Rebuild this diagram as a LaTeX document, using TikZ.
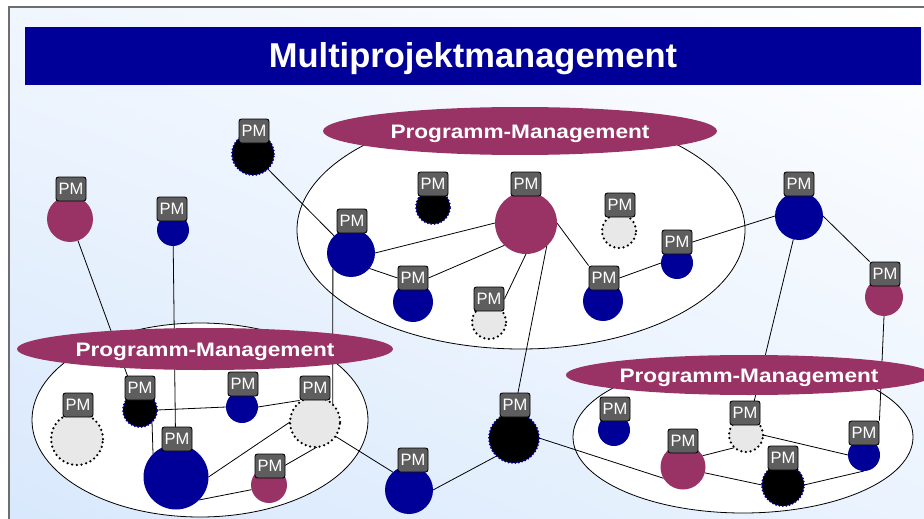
\documentclass[tikz,border=0pt]{standalone}
\usepackage{fontspec}
\usepackage{graphicx}
\setmainfont{Liberation Sans}
\usetikzlibrary{shapes.geometric,shadings}

\definecolor{navy}{HTML}{000099}
\definecolor{plum}{HTML}{993366}
\definecolor{pmgray}{HTML}{5E5E5E}
\definecolor{ghost}{HTML}{E8E8E8}
\definecolor{framegray}{HTML}{6E6E6E}
\definecolor{bgul}{RGB}{240,246,254}
\definecolor{bgll}{RGB}{216,232,252}
\definecolor{bglr}{RGB}{234,243,254}

\pgfdeclarelayer{back}
\pgfdeclarelayer{links}
\pgfsetlayers{back,links,main}

% a project circle: #1 name, #2 style, #3 x, #4 y, #5 diameter
\newcommand\projnode[5]{%
  \node[#2, minimum size=#5pt] (#1) at (#3,#4) {};
}
% its "PM" tag: #1 project name, #2 x, #3 y
\newcommand\pmtag[3]{%
  \node[pmbox] (#1pm) at (#2,#3) {PM};
}
% text lowered a little while keeping its box size
\newcommand\lowered[1]{\raisebox{-3pt}[\height][\depth]{#1}}
% stretched label text of a programme
\newcommand\pgmtext{\lowered{\scalebox{1.16}[1]{Programm-Management}}}

\begin{document}
\begin{tikzpicture}[x=1pt,y=-1pt,
  proj/.style={circle, inner sep=0pt, outer sep=0pt},
  bluep/.style={proj, fill=navy},
  plump/.style={proj, fill=plum},
  blackp/.style={proj, fill=black, draw=navy, line width=2.3pt,
                 dash pattern=on 0pt off 3.4pt, line cap=round},
  openp/.style={proj, fill=ghost, draw=black, line width=2.5pt,
                dash pattern=on 0pt off 4.7pt, line cap=round},
  pmbox/.style={rectangle, rounded corners=2.5pt, fill=pmgray, draw=black,
                line width=0.9pt, minimum width=30pt, minimum height=24pt,
                inner sep=0pt, text=white,
                font=\fontsize{16.5}{16.5}\selectfont},
  pgm/.style={ellipse, fill=plum, inner sep=0pt, text=white,
              font=\fontsize{19.5}{19.5}\selectfont\bfseries},
  link/.style={draw=black, line width=0.8pt},
  cluster/.style={draw=black, line width=0.8pt, fill=white},
  titlebar/.style={rectangle, fill=navy, inner sep=0pt, text=white,
                   minimum width=896pt, minimum height=58pt,
                   font=\fontsize{34.5}{34.5}\selectfont\bfseries},
]
\useasboundingbox (0,0) rectangle (924,519);

\begin{pgfonlayer}{back}
  % page background and frame
  \fill[white] (0,0) rectangle (924,519);
  \shade[upper left=bgul, upper right=white,
         lower left=bgll, lower right=bglr]
        (9,7) rectangle (932,528);
  \draw[framegray, line width=2.5pt] (932,7) -- (9,7) -- (9,528);
  % programme clusters
  \draw[cluster] (521,230) ellipse [x radius=224pt, y radius=119pt];
  \draw[cluster] (200,420) ellipse [x radius=168pt, y radius=97pt];
  \draw[cluster] (743,437) ellipse [x radius=170pt, y radius=76pt];
\end{pgfonlayer}

% title
\node[titlebar] (title) at (473,56) {\lowered{Multiprojektmanagement}};

% programme labels
\node[pgm, minimum width=394pt, minimum height=48pt] (pgtop) at (520,131) {\pgmtext};
\node[pgm, minimum width=376pt, minimum height=42pt] (pgleft) at (205,349) {\pgmtext};
\node[pgm, minimum width=366pt, minimum height=40pt] (pgright) at (749,375) {\pgmtext};

% projects
\projnode{A}{plump}{70}{219}{46}
\projnode{B}{bluep}{173}{230}{32}
\projnode{C}{blackp}{253}{154}{42}
\projnode{D}{blackp}{433}{207}{34}
\projnode{E}{plump}{526}{223}{62}
\projnode{F}{openp}{619}{231}{34}
\projnode{G}{bluep}{351}{253}{48}
\projnode{H}{bluep}{413}{302}{40}
\projnode{I}{openp}{489}{322}{34}
\projnode{J}{bluep}{603}{301}{40}
\projnode{K}{bluep}{677}{263}{32}
\projnode{L}{bluep}{799}{216}{48}
\projnode{M}{plump}{884}{297}{38}
\projnode{N}{openp}{77}{439}{52}
\projnode{O}{blackp}{140}{410}{34}
\projnode{P}{bluep}{242}{407}{32}
\projnode{Q}{openp}{315}{422}{50}
\projnode{R}{bluep}{176}{477}{65}
\projnode{S}{plump}{269}{485}{36}
\projnode{T}{bluep}{409}{490}{48}
\projnode{U}{blackp}{514}{438}{50}
\projnode{V}{bluep}{614}{430}{32}
\projnode{W}{plump}{683}{467}{45}
\projnode{X}{openp}{746}{435}{34}
\projnode{Y}{blackp}{783}{485}{42}
\projnode{Z}{bluep}{864}{455}{32}

% PM tags
\pmtag{A}{71}{189}
\pmtag{B}{172}{209}
\pmtag{C}{254}{131}
\pmtag{D}{433}{184}
\pmtag{E}{526}{184}
\pmtag{F}{620}{205}
\pmtag{G}{352}{221}
\pmtag{H}{413}{278}
\pmtag{I}{489}{299}
\pmtag{J}{604}{278}
\pmtag{K}{677}{242}
\pmtag{L}{799}{184}
\pmtag{M}{885}{274}
\pmtag{N}{78}{405}
\pmtag{O}{140}{388}
\pmtag{P}{243}{384}
\pmtag{Q}{315}{388}
\pmtag{R}{177}{439}
\pmtag{S}{270}{466}
\pmtag{T}{413}{460}
\pmtag{U}{515}{405}
\pmtag{V}{615}{409}
\pmtag{W}{683}{441}
\pmtag{X}{745}{413}
\pmtag{Y}{783}{458}
\pmtag{Z}{864}{433}

% connections
\begin{pgfonlayer}{links}
  \draw[link] (A) -- (O);
  \draw[link] (B) -- (R);
  \draw[link] (C) -- (G);
  \draw[link] (G.221) -- (Q.45);
  \draw[link] (G.east) -- (E.west);
  \draw[link] (G.-40) -- (Hpm.west);
  \draw[link] (Hpm.east) -- (E.226);
  \draw[link] (Ipm.east) -- (E.south);
  \draw[link] (E.east) -- (Jpm.north west);
  \draw[link] (E.-48) -- (U.north);
  \draw[link] (Jpm.east) -- (K.west);
  \draw[link] (Kpm.east) -- (L.west);
  \draw[link] (L.east) -- (Mpm.north west);
  \draw[link] (L) -- (X);
  \draw[link] (M.south) -- (Zpm.north east);
  \draw[link] (O.east) -- (P.west);
  \draw[link] (P.east) -- (Qpm.south west);
  \draw[link] (O.-45) -- (R.135);
  \draw[link] (R.east) -- (Q.west);
  \draw[link] (R.-45) -- (S.195);
  \draw[link] (S.60) -- (Q.-85);
  \draw[link] (Q.-35) -- (T.132);
  \draw[link] (T.east) -- (U.-134);
  \draw[link] (U.east) -- (W.210);
  \draw[link] (W.30) -- (X.228);
  \draw[link] (W.-15) -- (Y.west);
  \draw[link] (Y.east) -- (Z.south);
  \draw[link] (X.east) -- (Z.west);
\end{pgfonlayer}
\end{tikzpicture}
\end{document}
